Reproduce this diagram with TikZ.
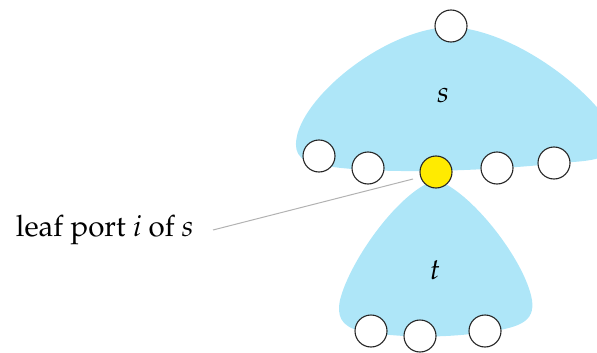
\documentclass[tikz,border=0pt]{standalone}
\usepackage[T1]{fontenc}
\usepackage{mathpazo}
\begin{document}
\begin{tikzpicture}[x=1pt,y=-1pt,
  blob/.style={fill=blobblue,draw=none},
  port/.style={circle,draw=black!85,line width=1.1pt,fill=white,minimum size=32pt,inner sep=0pt},
  leafport/.style={port,fill=portyellow},
  lbl/.style={font=\fontsize{29.5}{36}\selectfont},
  pointer/.style={draw=black!30,line width=1pt}]
\definecolor{blobblue}{HTML}{AEE6F8}
\definecolor{portyellow}{HTML}{FFEB00}
\useasboundingbox (0,0) rectangle (597,353);
\clip (0,0) rectangle (597,353);
% upper blob s
\path[blob] (451,27) .. controls (515,30) and (590,90) .. (610,125)
  .. controls (620,160) and (600,160) .. (560,163)
  .. controls (500,170) and (380,176) .. (320,165)
  .. controls (296,161) and (293,150) .. (298,132)
  .. controls (312,88) and (390,28) .. (451,27);
% lower blob t
\path[blob] (436,180) .. controls (470,190) and (525,260) .. (532,300)
  .. controls (535,322) and (520,328) .. (480,333)
  .. controls (440,338) and (400,338) .. (360,331)
  .. controls (340,326) and (337,315) .. (340,300)
  .. controls (350,260) and (400,190) .. (436,180);
\node[lbl] (s) at (443,95) {\itshape s};
\node[lbl] (t) at (435,270) {\itshape t};
\node[port] (top) at (451,26) {};
\node[port] (p1) at (319,156) {};
\node[port] (p2) at (368,168) {};
\node[leafport] (p3) at (436,172) {};
\node[port] (p4) at (497,168) {};
\node[port] (p5) at (554,163) {};
\node[port] (b1) at (371,331) {};
\node[port] (b2) at (420,336) {};
\node[port] (b3) at (485,331) {};
\node[lbl,anchor=east] (label) at (197,230) {leaf port \textit{i} of \textit{s}};
\coordinate (tip) at (413,179);
\draw[pointer] ([xshift=16pt]label.east) -- (tip);
\end{tikzpicture}
\end{document}
